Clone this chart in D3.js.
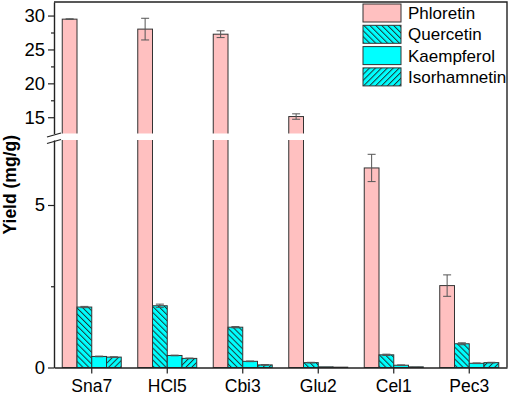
<!DOCTYPE html>
<html>
<head>
<meta charset="utf-8">
<script src="https://cdn.jsdelivr.net/npm/d3@7"></script>
<style>
  body { margin: 0; background: #fff; }
  svg text { font-family: Arial, "Liberation Sans", sans-serif; }
</style>
</head>
<body>
<div id="chart"></div>
<script>
// data (mg/g)
var categories = ["Sna7", "HCl5", "Cbi3", "Glu2", "Cel1", "Pec3"];
var seriesNames = ["Phloretin", "Quercetin", "Kaempferol", "Isorhamnetin"];
var phloretin = [29.47, 28.0, 27.25, 15.1, 6.14, 2.52];
var phloretinErr = [0.05, 1.6, 0.5, 0.4, 0.42, 0.33];
var quercetin = [1.86, 1.90, 1.24, 0.15, 0.39, 0.73];
var quercetinErr = [0.02, 0.05, 0.02, 0.01, 0.02, 0.03];
var kaempferol = [0.34, 0.37, 0.19, 0.02, 0.07, 0.13];
var kaempferolErr = [0.01, 0.01, 0.01, 0, 0.01, 0.01];
var isorhamnetin = [0.32, 0.28, 0.08, 0.01, 0.02, 0.15];
var isorhamnetinErr = [0.01, 0.01, 0.01, 0, 0, 0.01];
var upperTicks = [15, 20, 25, 30];
var upperMinor = [17.5, 22.5, 27.5];
var lowerTicks = [0, 5];
var lowerMinor = [2.5];

var width = 510, height = 395;
var plotL = 54, plotR = 507, plotT = 2, plotB = 367.5;
var breakTop = 133.5, breakBottom = 140;

var svg = d3.select("#chart").append("svg")
    .attr("width", width)
    .attr("height", height);

var defs = svg.append("defs");
function hatch(id, angle) {
    var p = defs.append("pattern")
        .attr("id", id)
        .attr("patternUnits", "userSpaceOnUse")
        .attr("width", 4.2).attr("height", 4.2)
        .attr("patternTransform", "rotate(" + angle + ")");
    p.append("rect").attr("width", 4.2).attr("height", 4.2).attr("fill", "#00FFFF");
    p.append("line").attr("x1", 0.5).attr("y1", 0).attr("x2", 0.5).attr("y2", 4.2)
        .attr("stroke", "#1a3a3a").attr("stroke-width", 1);
}
hatch("hatchBack", -45);
hatch("hatchFwd", 45);

var fills = ["#FFC0C0", "url(#hatchBack)", "#00FFFF", "url(#hatchFwd)"];
var values = [phloretin, quercetin, kaempferol, isorhamnetin];
var errors = [phloretinErr, quercetinErr, kaempferolErr, isorhamnetinErr];

var x0 = d3.scaleBand().domain(categories).range([plotL, plotR]).padding(0);
var groupW = 59;
var x1 = d3.scaleBand().domain(seriesNames)
    .range([(x0.bandwidth() - groupW) / 2, (x0.bandwidth() + groupW) / 2]);

var yLow = d3.scaleLinear().domain([0, 7]).range([plotB, breakBottom]);
var yHigh = d3.scaleLinear().domain([12.6, 32]).range([breakTop, plotT]);
function y(v) { return v <= 7 ? yLow(v) : yHigh(v); }

// flat list of bars
var bars = [];
seriesNames.forEach(function (s, i) {
    categories.forEach(function (c, j) {
        bars.push({ series: s, cat: c, value: values[i][j], err: errors[i][j], fill: fills[i] });
    });
});

svg.append("g").selectAll("rect")
    .data(bars)
    .enter().append("rect")
    .attr("x", function (d) { return x0(d.cat) + x1(d.series); })
    .attr("y", function (d) { return y(d.value); })
    .attr("width", x1.bandwidth())
    .attr("height", function (d) { return plotB - y(d.value); })
    .attr("fill", function (d) { return d.fill; })
    .attr("stroke", "#333")
    .attr("stroke-width", 1);

// error bars
var eb = svg.append("g").attr("stroke", "#555").attr("stroke-width", 1);
bars.forEach(function (d) {
    if (!d.err) return;
    var cx = x0(d.cat) + x1(d.series) + x1.bandwidth() / 2;
    var y1 = y(d.value + d.err), y2 = y(d.value - d.err);
    eb.append("line").attr("x1", cx).attr("x2", cx).attr("y1", y1).attr("y2", y2);
    [y1, y2].forEach(function (yy) {
        eb.append("line").attr("x1", cx - 4).attr("x2", cx + 4).attr("y1", yy).attr("y2", yy);
    });
});

// white gap of the broken axis
svg.append("rect")
    .attr("x", plotL + 1).attr("y", breakTop)
    .attr("width", plotR - plotL - 2).attr("height", breakBottom - breakTop)
    .attr("fill", "#fff");

// frame: top and right
svg.append("path")
    .attr("d", "M" + plotL + "," + plotT + "H" + plotR + "V" + plotB)
    .attr("fill", "none").attr("stroke", "#222").attr("stroke-width", 1.4);

// y axes, upper and lower parts
function styleAxis(g, size) {
    g.selectAll("path.domain").attr("stroke", "#222").attr("stroke-width", 1.4);
    g.selectAll(".tick line").attr("stroke", "#222").attr("stroke-width", 1.2);
    g.selectAll("text").attr("font-size", size || 17).attr("fill", "#000");
}
var fmt = d3.format("d");
var gUp = svg.append("g").attr("transform", "translate(" + plotL + ",0)")
    .call(d3.axisLeft(yHigh).tickValues(upperTicks).tickFormat(fmt).tickSize(6).tickSizeOuter(0).tickPadding(3));
styleAxis(gUp, 18.5);
var gLow = svg.append("g").attr("transform", "translate(" + plotL + ",0)")
    .call(d3.axisLeft(yLow).tickValues(lowerTicks).tickFormat(fmt).tickSize(6).tickSizeOuter(0).tickPadding(3));
styleAxis(gLow, 18.5);
svg.append("g").attr("transform", "translate(" + plotL + ",0)")
    .call(d3.axisLeft(yHigh).tickValues(upperMinor).tickSize(3).tickSizeOuter(0).tickFormat(""))
    .call(function (g) { g.select(".domain").remove(); styleAxis(g); });
svg.append("g").attr("transform", "translate(" + plotL + ",0)")
    .call(d3.axisLeft(yLow).tickValues(lowerMinor).tickSize(3).tickSizeOuter(0).tickFormat(""))
    .call(function (g) { g.select(".domain").remove(); styleAxis(g); });

// break marks
[breakTop + 1.5, breakBottom + 1.5].forEach(function (yy) {
    svg.append("line")
        .attr("x1", plotL - 7).attr("y1", yy + 2)
        .attr("x2", plotL + 7).attr("y2", yy - 2)
        .attr("stroke", "#222").attr("stroke-width", 1.2);
});

// x axis
var gX = svg.append("g").attr("transform", "translate(0," + plotB + ")")
    .call(d3.axisBottom(x0).tickSize(6).tickSizeOuter(0).tickPadding(6));
styleAxis(gX, 17.5);

// y title
svg.append("text")
    .attr("transform", "translate(16," + ((plotT + plotB) / 2) + ") rotate(-90)")
    .attr("text-anchor", "middle")
    .attr("font-size", 17.5)
    .attr("font-weight", "bold")
    .text("Yield (mg/g)");

// legend
var legend = svg.append("g").attr("transform", "translate(363,4)");
var items = legend.selectAll("g")
    .data(seriesNames)
    .enter().append("g")
    .attr("transform", function (d, i) { return "translate(0," + (i * 21.3) + ")"; });
items.append("rect")
    .attr("width", 38).attr("height", 18)
    .attr("fill", function (d, i) { return fills[i]; })
    .attr("stroke", "#333").attr("stroke-width", 1);
items.append("text")
    .attr("x", 45).attr("y", 15)
    .attr("font-size", 17)
    .text(function (d) { return d; });
</script>
</body>
</html>
